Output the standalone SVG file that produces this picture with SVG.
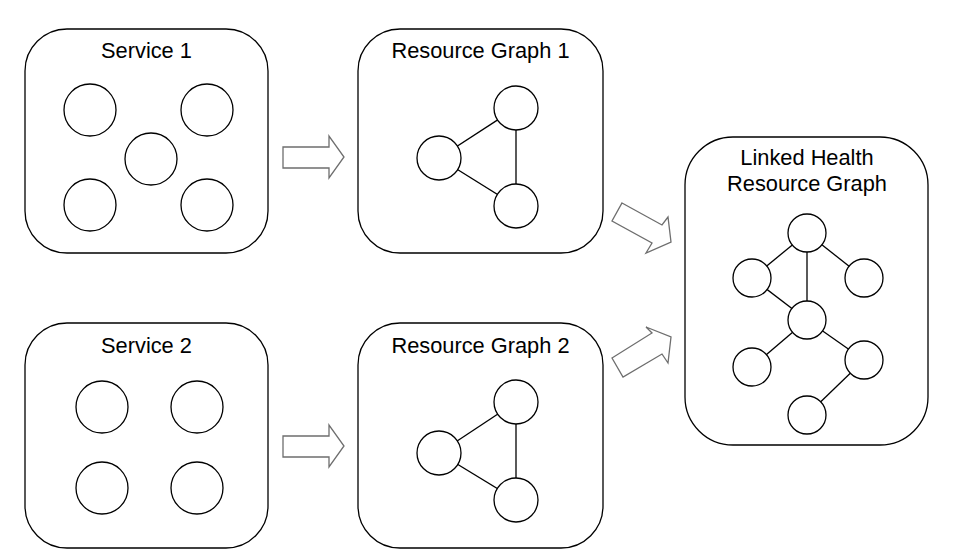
<svg xmlns="http://www.w3.org/2000/svg" width="956" height="559" viewBox="0 0 956 559">
<style>
.box{fill:#fff;stroke:#000;stroke-width:1.3}
.c{fill:#fff;stroke:#000;stroke-width:1.3}
.e{stroke:#000;stroke-width:1.3;fill:none}
.arr{fill:#fff;stroke:#6e6e6e;stroke-width:1.3;stroke-linejoin:miter}
text{font-family:"Liberation Sans",Arial,sans-serif;font-size:21.8px;fill:#000;text-anchor:middle}
</style>
<rect width="956" height="559" fill="#fff"/>
<g id="connectors">
<polygon class="arr" points="283,147 329,147 329,136 344,157 329,178 329,168 283,168"/>
<polygon class="arr" points="283,436 329,436 329,425 344,446 329,467 329,457 283,457"/>
<polygon class="arr" points="622,203 662,225 668,217 671,242 646,253 652,243 612,221"/>
<polygon class="arr" points="612,358 652,333 646,327 671,337 668,363 662,354 623,377"/>
</g>
<g id="service1">
<rect class="box" x="25" y="29" width="243" height="224" rx="42" ry="42"/>
<text x="146.5" y="58">Service 1</text>
<circle class="c" cx="90" cy="110" r="26"/>
<circle class="c" cx="207" cy="110" r="26"/>
<circle class="c" cx="151" cy="159" r="26"/>
<circle class="c" cx="90" cy="205" r="26"/>
<circle class="c" cx="207" cy="205" r="26"/>
</g>
<g id="service2">
<rect class="box" x="25" y="323" width="243" height="225" rx="42" ry="42"/>
<text x="146.5" y="353">Service 2</text>
<circle class="c" cx="102" cy="407" r="26"/>
<circle class="c" cx="197" cy="407" r="26"/>
<circle class="c" cx="102" cy="488" r="26"/>
<circle class="c" cx="197" cy="488" r="26"/>
</g>
<g id="resourcegraph1">
<rect class="box" x="358" y="29" width="245" height="224" rx="42" ry="42"/>
<text x="480.5" y="58">Resource Graph 1</text>
<line class="e" x1="439" y1="158" x2="516" y2="108"/>
<line class="e" x1="439" y1="158" x2="516" y2="206"/>
<line class="e" x1="516" y1="108" x2="516" y2="206"/>
<circle class="c" cx="516" cy="108" r="22"/>
<circle class="c" cx="439" cy="158" r="22"/>
<circle class="c" cx="516" cy="206" r="22"/>
</g>
<g id="resourcegraph2">
<rect class="box" x="358" y="323" width="245" height="225" rx="42" ry="42"/>
<text x="480.5" y="353">Resource Graph 2</text>
<line class="e" x1="439" y1="453" x2="516" y2="402"/>
<line class="e" x1="439" y1="453" x2="516" y2="500"/>
<line class="e" x1="516" y1="402" x2="516" y2="500"/>
<circle class="c" cx="516" cy="402" r="22"/>
<circle class="c" cx="439" cy="453" r="22"/>
<circle class="c" cx="516" cy="500" r="22"/>
</g>
<g id="linkedhealth">
<rect class="box" x="685" y="137" width="243" height="308" rx="48" ry="48"/>
<text x="807" y="165">Linked Health</text>
<text x="807" y="191">Resource Graph</text>
<line class="e" x1="807" y1="233" x2="752" y2="278"/>
<line class="e" x1="807" y1="233" x2="864" y2="278"/>
<line class="e" x1="807" y1="233" x2="807" y2="320"/>
<line class="e" x1="752" y1="278" x2="807" y2="320"/>
<line class="e" x1="807" y1="320" x2="752" y2="367"/>
<line class="e" x1="807" y1="320" x2="864" y2="360"/>
<line class="e" x1="864" y1="360" x2="807" y2="415"/>
<circle class="c" cx="807" cy="233" r="19"/>
<circle class="c" cx="752" cy="278" r="19"/>
<circle class="c" cx="864" cy="278" r="19"/>
<circle class="c" cx="807" cy="320" r="19"/>
<circle class="c" cx="752" cy="367" r="19"/>
<circle class="c" cx="864" cy="360" r="19"/>
<circle class="c" cx="807" cy="415" r="19"/>
</g>
</svg>
